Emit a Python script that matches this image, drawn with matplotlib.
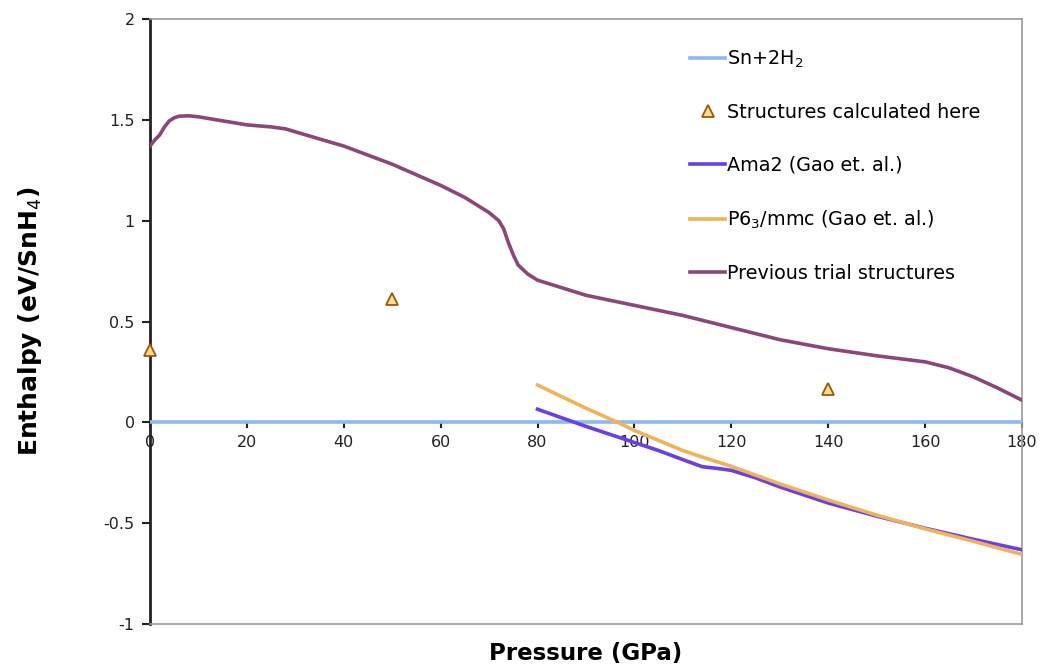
import numpy as np
import matplotlib.pyplot as plt

# pressure (GPa) / enthalpy (eV per SnH4) relative to Sn + 2H2
ref_p = [0, 180]
ref_h = [0, 0]

calc_p = [0, 50, 140]
calc_h = [0.36, 0.61, 0.165]

ama2_p = [80, 90, 100, 105, 110, 114, 117, 120, 125, 130, 140, 150, 160, 170, 180]
ama2_h = [0.065, -0.02, -0.10, -0.14, -0.185, -0.22, -0.228, -0.238, -0.275,
          -0.32, -0.40, -0.465, -0.525, -0.58, -0.632]

p63_p = [80, 90, 97, 100, 105, 110, 115, 120, 130, 140, 150, 160, 170, 180]
p63_h = [0.185, 0.07, -0.005, -0.04, -0.09, -0.14, -0.18, -0.218, -0.305,
         -0.385, -0.46, -0.528, -0.59, -0.655]

prev_p = [0, 1, 2, 3, 4, 5, 6, 8, 10, 15, 20, 25, 28, 35, 40, 50, 60, 65, 70,
          72, 73, 74, 75, 76, 78, 80, 90, 100, 110, 120, 130, 140, 150, 160,
          165, 170, 175, 180]
prev_h = [1.37, 1.40, 1.425, 1.465, 1.495, 1.51, 1.518, 1.52, 1.515, 1.495,
          1.475, 1.465, 1.455, 1.405, 1.37, 1.28, 1.175, 1.115, 1.04, 1.00,
          0.96, 0.89, 0.83, 0.78, 0.735, 0.705, 0.63, 0.58, 0.53, 0.47, 0.41,
          0.365, 0.33, 0.30, 0.27, 0.225, 0.17, 0.11]

xticks = [0, 20, 40, 60, 80, 100, 120, 140, 160, 180]
yticks = [-1, -0.5, 0, 0.5, 1, 1.5, 2]
ylabels = ['-1', '-0.5', '0', '0.5', '1', '1.5', '2']

fig = plt.figure(figsize=(10.4, 6.64), dpi=100)
ax = fig.add_axes([0.1442, 0.0602, 0.8385, 0.9112])

ax.plot(ref_p, ref_h, color='#8fb8f2', lw=2.6, label='Sn+2H$_2$', zorder=3)
ax.plot(calc_p, calc_h, ls='none', marker='^', ms=9, mfc='#fbe08a',
        mec='#9c5510', mew=1.3, label='Structures calculated here', zorder=5,
        clip_on=False)
ax.plot(ama2_p, ama2_h, color='#6a3cf2', lw=2.6, label='Ama2 (Gao et. al.)',
        zorder=4)
ax.plot(p63_p, p63_h, color='#efb456', lw=2.6,
        label='P6$_3$/mmc (Gao et. al.)', zorder=4)
ax.plot(prev_p, prev_h, color='#8c4677', lw=2.6,
        label='Previous trial structures', zorder=4)

ax.set_xlim(0, 180)
ax.set_ylim(-1, 2)

# frame: dark value axis on the left, grey plot-area border elsewhere
for side in ['top', 'right', 'bottom']:
    ax.spines[side].set_color('#999999')
    ax.spines[side].set_linewidth(1.2)
ax.spines['left'].set_color('#222222')
ax.spines['left'].set_linewidth(2)

ax.set_yticks(yticks)
ax.set_yticklabels(ylabels)
ax.tick_params(axis='y', direction='out', length=6, width=1.5,
               labelsize=11.5, pad=5, colors='#222222')
ax.tick_params(axis='x', bottom=False, labelbottom=False)

# category axis crosses at zero
sec = ax.secondary_xaxis(1 / 3)
sec.set_xticks(xticks)
sec.spines['bottom'].set_visible(False)
sec.tick_params(direction='out', length=4, width=1.5, labelsize=11.5, pad=5,
                colors='#222222')

ax.text(0.5, -0.029, 'Pressure (GPa)', transform=ax.transAxes,
        ha='center', va='top', fontsize=16.5, fontweight='bold')
ax.set_ylabel('Enthalpy (eV/SnH$_4$)', fontsize=18, fontweight='bold',
              labelpad=43)

leg = ax.legend(loc='upper left', bbox_to_anchor=(0.6, 0.98), frameon=False,
                fontsize=13.8, handlelength=1.8, handletextpad=0.1,
                labelspacing=1.75)

fig.savefig('out.png', dpi=100)
